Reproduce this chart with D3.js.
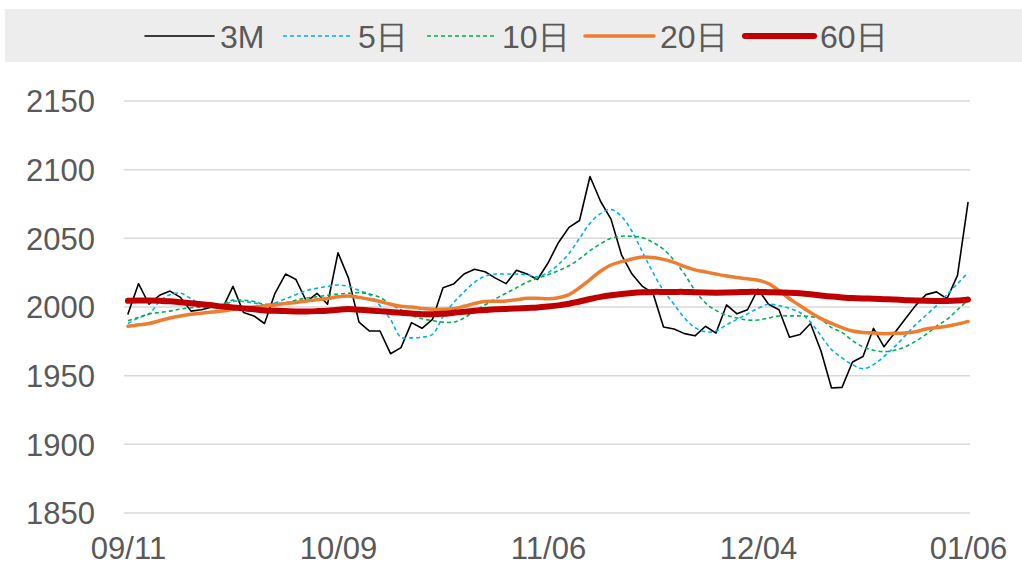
<!DOCTYPE html>
<html>
<head>
<meta charset="utf-8">
<script src="https://cdn.jsdelivr.net/npm/d3@7"></script>
<style>
  body { margin: 0; background: #fff; }
  svg { display: block; font-family: "Liberation Sans", Arial, sans-serif; }
</style>
</head>
<body>
<svg id="chart" width="1022" height="568"></svg>
<script>
// --- data (one value per trading day) ---
const tickLabels = ["09/11", "10/09", "11/06", "12/04", "01/06"];
const tickIndex = [0, 20, 40, 60, 80];
const yTicks = [1850, 1900, 1950, 2000, 2050, 2100, 2150];

const s3M = [1995, 2017, 2002, 2008.5, 2011.6, 2007, 1997, 1998, 2000, 1999,
  2015, 1996, 1993.5, 1988, 2010, 2024, 2020, 2004, 2010, 2002,
  2039.5, 2021, 1989, 1982.5, 1982.5, 1966, 1970.4, 1988.6, 1984.5, 1991,
  2014, 2016.7, 2024, 2027.5, 2025.7, 2021, 2017, 2026.7, 2024, 2020,
  2032, 2047, 2058, 2063, 2095, 2077, 2064, 2038, 2024, 2015,
  2010, 1985.5, 1984, 1980.6, 1979, 1986, 1981, 2001.5, 1995, 1998,
  2013, 2002, 1998, 1978, 1980, 1988, 1968, 1941, 1941.5, 1960,
  1964, 1984.5, 1971, 1981, 1991, 2001, 2009, 2011, 2006, 2023, 2076];

const s5 = [1988, 1992, 1995, 2004, 2009, 2010, 2006, 2002, 2001, 2001,
  2004, 2004, 2003, 2001.5, 2003, 2006, 2009, 2012, 2013.6, 2015,
  2016, 2015, 2012, 2009, 2001, 1991, 1978, 1977.5, 1978, 1980,
  1993, 2003, 2011, 2018, 2022.5, 2024, 2024, 2024, 2023.5, 2022,
  2025, 2031, 2039, 2050, 2061, 2068, 2071, 2066, 2055, 2040,
  2025, 2012, 2002, 1992, 1985, 1982, 1982.5, 1987, 1991, 1995,
  1999, 2002, 2001, 1999, 1996, 1989, 1979, 1969, 1963, 1958,
  1955, 1958, 1964, 1971, 1979, 1987, 1994, 2001, 2009, 2017, 2025];

const s10 = [1990, 1992.5, 1995, 1996, 1997, 1998.5, 1999.5, 2000, 2000.7, 2002,
  2005, 2005, 2004, 2002, 2002.5, 2003, 2005, 2006.5, 2007.5, 2008.5,
  2009.5, 2010, 2010.4, 2009.5, 2007, 2002, 1998, 1994, 1991.5, 1990,
  1989, 1989, 1992, 1997, 2001.5, 2006, 2010, 2014, 2018, 2021,
  2023.5, 2026.5, 2030, 2035, 2041, 2046, 2050, 2051.5, 2051.5, 2050.5,
  2047, 2042, 2034, 2024, 2012, 2003, 1997.5, 1994, 1992, 1990.5,
  1990.5, 1992, 1993.5, 1993.5, 1993.5, 1993, 1991, 1985, 1981.5, 1975.5,
  1971, 1968.5, 1967.5, 1968.5, 1971, 1975, 1980, 1986, 1991, 1998, 2005];

const s20 = [1986, 1987, 1988, 1990, 1992, 1993.5, 1994.7, 1995.5, 1996.3, 1997,
  1998.3, 1999.5, 2000, 2000.7, 2001.5, 2002.5, 2003.3, 2004.3, 2005.3, 2006.2,
  2007.5, 2008, 2007, 2005.6, 2004, 2002, 2000.5, 2000, 1999, 1998.3,
  1998.3, 1998.7, 2000.5, 2002.5, 2004, 2004.2, 2004.4, 2005.3, 2006.3, 2006.3,
  2006, 2006.8, 2009, 2014, 2020, 2026, 2030.6, 2033, 2035, 2036.4,
  2036, 2034.7, 2032.5, 2029.5, 2027, 2025.5, 2024, 2022.6, 2021.5, 2020.5,
  2019.5, 2017, 2012, 2006, 2001, 1996, 1991.5, 1988, 1985, 1982.5,
  1981.5, 1981, 1980.6, 1980.8, 1981, 1982, 1984, 1985, 1986, 1987.5, 1989.5];

const s60 = [2004.5, 2004.7, 2004.7, 2004.5, 2004.2, 2003.5, 2002.7, 2002, 2001.2, 2000.3,
  1999.7, 1999, 1998.3, 1997.5, 1997.2, 1997, 1996.8, 1996.8, 1997, 1997.3,
  1998, 1998.5, 1998, 1997.5, 1997, 1996.3, 1995.8, 1995.3, 1994.8, 1994.7,
  1995, 1995.8, 1996.6, 1997.3, 1997.8, 1998.3, 1998.6, 1998.9, 1999.3, 1999.6,
  2000.3, 2001.2, 2002.4, 2004, 2005.8, 2007.4, 2008.6, 2009.5, 2010.2, 2010.7,
  2011, 2011, 2011, 2011, 2010.7, 2010.5, 2010.4, 2010.5, 2010.7, 2011,
  2011, 2010.8, 2010.6, 2010.4, 2010, 2009.3, 2008.4, 2007.6, 2007, 2006.5,
  2006.2, 2006, 2005.7, 2005.4, 2005, 2004.7, 2004.5, 2004.4, 2004.4, 2004.7, 2005.5];

const seriesNames = ["3M", "5日", "10日", "20日", "60日"];

// styles per series
const styles = [
  { values: s3M, color: "#000000", width: 1.6, dash: null, smooth: false },
  { values: s5,  color: "#00b0f0", width: 1.6, dash: "4,3", smooth: true },
  { values: s10, color: "#00b050", width: 1.6, dash: "4,3", smooth: true },
  { values: s20, color: "#ed7d31", width: 3.5, dash: null, smooth: true },
  { values: s60, color: "#c00000", width: 6,   dash: null, smooth: true },
];

const svg = d3.select("#chart");
const W = 1022, H = 568;
const plot = { left: 128, right: 968, top: 101, bottom: 513 };
const textColor = "#595959";
const axisFont = 31;

const x = d3.scaleLinear().domain([0, s3M.length - 1]).range([plot.left, plot.right]);
const y = d3.scaleLinear().domain([1850, 2150]).range([plot.bottom, plot.top]);

// legend background
svg.append("rect")
  .attr("x", 5).attr("y", 9).attr("width", W - 5).attr("height", 53)
  .attr("fill", "#ededed");

// grid lines
svg.append("g")
  .selectAll("line")
  .data(yTicks)
  .join("line")
  .attr("x1", 124).attr("x2", 970)
  .attr("y1", d => y(d)).attr("y2", d => y(d))
  .attr("stroke", "#d9d9d9")
  .attr("stroke-width", 1.5);

// y axis labels
const yAxis = d3.axisLeft(y).tickValues(yTicks).tickSize(0).tickPadding(0).tickFormat(d3.format("d"));
svg.append("g")
  .attr("transform", `translate(95,0)`)
  .call(yAxis)
  .call(g => g.select(".domain").remove())
  .selectAll("text")
  .attr("fill", textColor)
  .attr("font-size", axisFont)
  .attr("font-family", "Liberation Sans, Arial, sans-serif")
  .attr("dy", "0.35em");

// x axis labels
const xAxis = d3.axisBottom(x).tickValues(tickIndex).tickSize(0).tickPadding(0)
  .tickFormat((d, i) => tickLabels[i]);
svg.append("g")
  .attr("transform", `translate(0,${plot.bottom + 24})`)
  .call(xAxis)
  .call(g => g.select(".domain").remove())
  .selectAll("text")
  .attr("fill", textColor)
  .attr("font-size", axisFont)
  .attr("font-family", "Liberation Sans, Arial, sans-serif")
  .attr("dy", "0.71em");

// lines
const lines = svg.append("g").attr("fill", "none");
styles.forEach(s => {
  const gen = d3.line()
    .x((d, i) => x(i))
    .y(d => y(d))
    .curve(s.smooth ? d3.curveCatmullRom.alpha(0.5) : d3.curveLinear);
  lines.append("path")
    .datum(s.values)
    .attr("d", gen)
    .attr("stroke", s.color)
    .attr("stroke-width", s.width)
    .attr("stroke-dasharray", s.dash)
    .attr("stroke-linejoin", "round")
    .attr("stroke-linecap", s.dash ? "butt" : "round");
});

// legend
const legendX = [145, 283, 427, 585, 745];
const legend = svg.append("g");
seriesNames.forEach((name, i) => {
  const s = styles[i];
  const lx = legendX[i];
  legend.append("line")
    .attr("x1", lx).attr("x2", lx + 69)
    .attr("y1", 36).attr("y2", 36)
    .attr("stroke", s.color)
    .attr("stroke-width", s.width)
    .attr("stroke-dasharray", s.dash)
    .attr("stroke-linecap", s.dash ? "butt" : "round");
  legend.append("text")
    .attr("x", lx + 75).attr("y", 37)
    .attr("dy", "0.35em")
    .attr("fill", textColor)
    .attr("font-size", 32)
    .text(name);
});
</script>
</body>
</html>
